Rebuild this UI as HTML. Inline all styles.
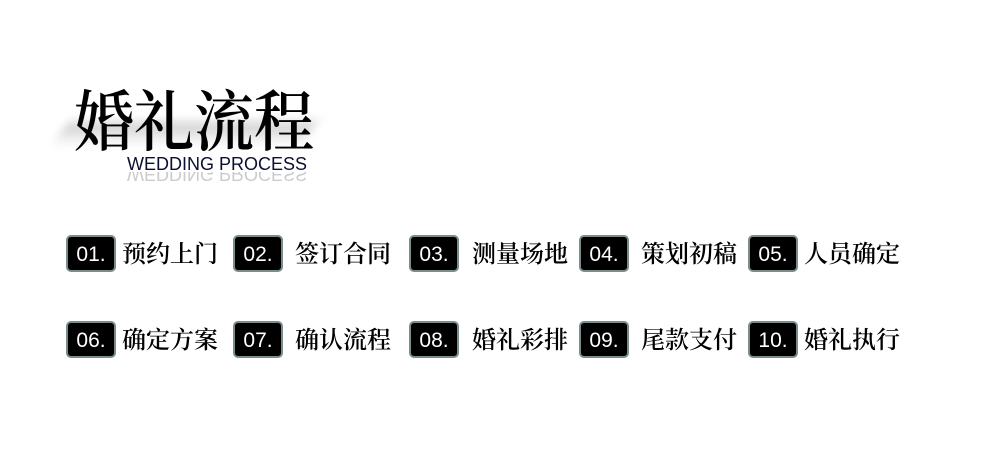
<!DOCTYPE html>
<html><head><meta charset="utf-8"><style>
body{margin:0;width:998px;height:476px;background:#fff;position:relative;overflow:hidden}
.t{position:absolute;left:74px;top:70px;font:600 60px "Noto Serif CJK SC","Liberation Serif",serif;color:#000;white-space:nowrap;transform:scaleY(1.1);transform-origin:0 0}
.sh{position:absolute;left:60px;top:122px;width:250px;height:24px;background:linear-gradient(#bbb,#fff);filter:blur(5px);opacity:.8;transform:skewX(-30deg)}
.sub{position:absolute;left:127px;top:154px;font:18px "Liberation Sans",sans-serif;color:#0a1030;white-space:nowrap}
.subr{position:absolute;left:127px;top:172px;font:18px "Liberation Sans",sans-serif;color:#999;transform:scaleY(-1);opacity:.5;white-space:nowrap;height:11px;overflow:hidden;line-height:18px}
.b{position:absolute;width:46px;height:33px;background:#000;border:2px solid #7a8c8c;border-radius:5px;color:#fff;font:21px "Liberation Sans",sans-serif;text-align:center;line-height:35px;box-sizing:content-box}
.l{position:absolute;font:600 24px "Noto Serif CJK SC","Liberation Serif",serif;color:#000;white-space:nowrap;line-height:34px}
</style></head><body>
<div class="sh"></div>
<div class="t">婚礼流程</div>
<div class="sub">WEDDING PROCESS</div>
<div class="subr">WEDDING PROCESS</div>

<div class="b" style="left:66px;top:235px">01.</div><div class="l" style="left:122px;top:235px">预约上门</div>
<div class="b" style="left:233px;top:235px">02.</div><div class="l" style="left:295px;top:235px">签订合同</div>
<div class="b" style="left:409px;top:235px">03.</div><div class="l" style="left:472px;top:235px">测量场地</div>
<div class="b" style="left:579px;top:235px">04.</div><div class="l" style="left:641px;top:235px">策划初稿</div>
<div class="b" style="left:748px;top:235px">05.</div><div class="l" style="left:804px;top:235px">人员确定</div>

<div class="b" style="left:66px;top:321px">06.</div><div class="l" style="left:122px;top:321px">确定方案</div>
<div class="b" style="left:233px;top:321px">07.</div><div class="l" style="left:295px;top:321px">确认流程</div>
<div class="b" style="left:409px;top:321px">08.</div><div class="l" style="left:472px;top:321px">婚礼彩排</div>
<div class="b" style="left:579px;top:321px">09.</div><div class="l" style="left:641px;top:321px">尾款支付</div>
<div class="b" style="left:748px;top:321px">10.</div><div class="l" style="left:804px;top:321px">婚礼执行</div>
</body></html>
